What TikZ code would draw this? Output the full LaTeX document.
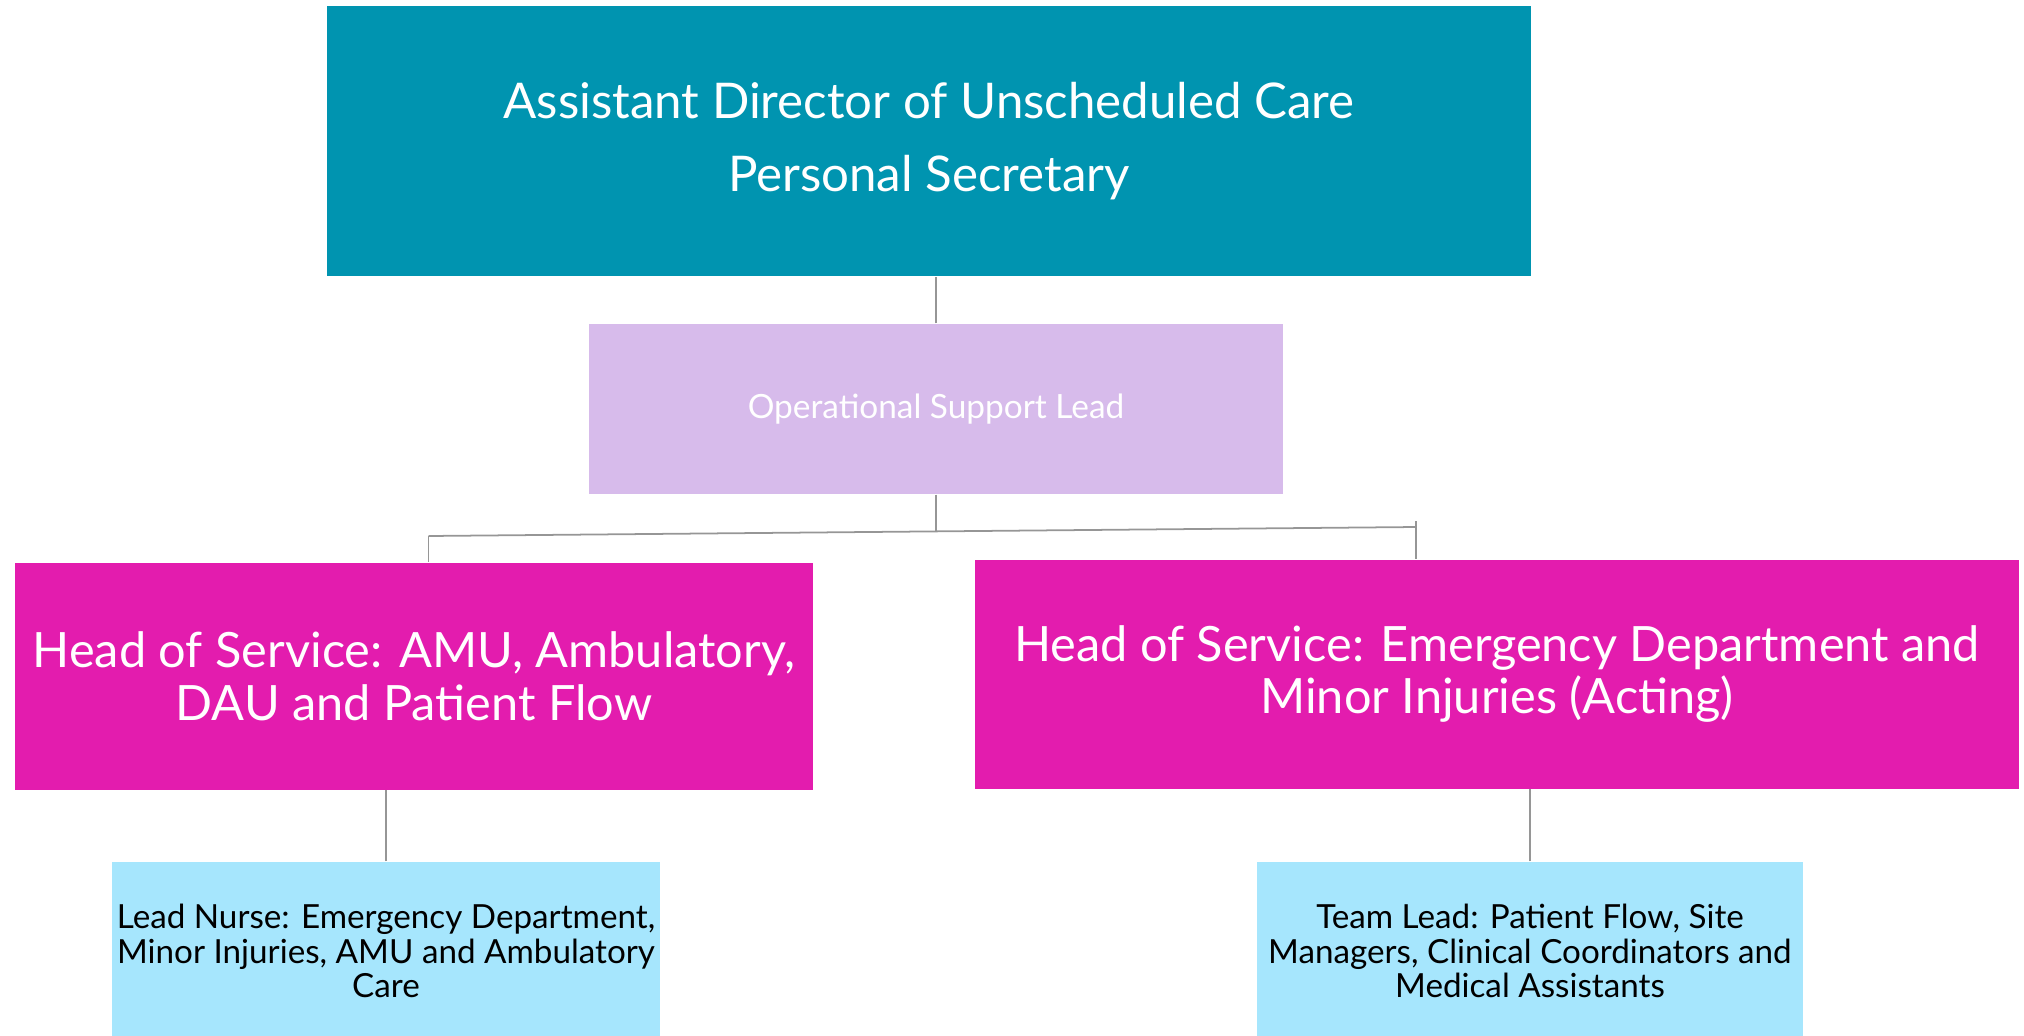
\documentclass[tikz,border=0pt]{standalone}
\usepackage{fontspec}
\setmainfont{Lato}
\definecolor{adcteal}{RGB}{0,148,176}
\definecolor{opslilac}{RGB}{215,187,235}
\definecolor{hosmagenta}{RGB}{227,28,174}
\definecolor{leadblue}{RGB}{166,230,253}
\definecolor{linegray}{RGB}{150,150,150}

\begin{document}
\begin{tikzpicture}[
    box/.style={rectangle, inner sep=0pt, align=center},
    bigtext/.style={font=\fontsize{13.85}{15}\selectfont, text=white},
    smalltext/.style={font=\fontsize{9.45}{9.9}\selectfont},
    link/.style={draw=linegray, line width=0.5pt}]
\useasboundingbox (0,0) rectangle (20.24,10.35);
\node[box, fill=adcteal, text=white, font=\fontsize{14}{20.7}\selectfont,
      minimum width=12.04cm, minimum height=2.70cm] (director) at (9.29,8.94)
      {Assistant Director of Unscheduled Care\\ Personal Secretary};
\node[box, fill=opslilac, text=white, font=\fontsize{9.5}{10}\selectfont,
      minimum width=6.94cm, minimum height=1.70cm] (opslead) at (9.36,6.26)
      {Operational Support Lead};
\node[box, fill=hosmagenta, bigtext,
      minimum width=7.97cm, minimum height=2.27cm] (hosamu) at (4.14,3.59)
      {Head of Service: AMU, Ambulatory,\\ DAU and Patient Flow};
\node[box, fill=hosmagenta, bigtext,
      minimum width=10.44cm, minimum height=2.29cm] (hosed) at (14.97,3.61)
      {Head of Service: Emergency Department and\\ Minor Injuries (Acting)};
\node[box, fill=leadblue, smalltext,
      minimum width=5.48cm, minimum height=1.78cm] (leadnurse) at (3.86,0.84)
      {Lead Nurse: Emergency Department,\\ Minor Injuries, AMU and Ambulatory\\ Care};
\node[box, fill=leadblue, smalltext,
      minimum width=5.46cm, minimum height=1.78cm] (teamlead) at (15.30,0.84)
      {Team Lead: Patient Flow, Site\\ Managers, Clinical Coordinators and\\ Medical Assistants};
\coordinate (busL) at (4.285,4.99);
\coordinate (busM) at (9.36,5.04);
\coordinate (busR) at (14.16,5.08);
\coordinate (busRtop) at (14.16,5.14);
\draw[link] (opslead.north) -- (opslead.north |- director.south);
\draw[link] (opslead.south) -- (busM);
\draw[link] (busL) -- (busR);
\draw[link] (busL) -- (busL |- hosamu.north);
\draw[link] (busRtop) -- (busRtop |- hosed.north);
\draw[link] (leadnurse.north) -- (leadnurse.north |- hosamu.south);
\draw[link] (teamlead.north) -- (teamlead.north |- hosed.south);
\end{tikzpicture}
\end{document}
